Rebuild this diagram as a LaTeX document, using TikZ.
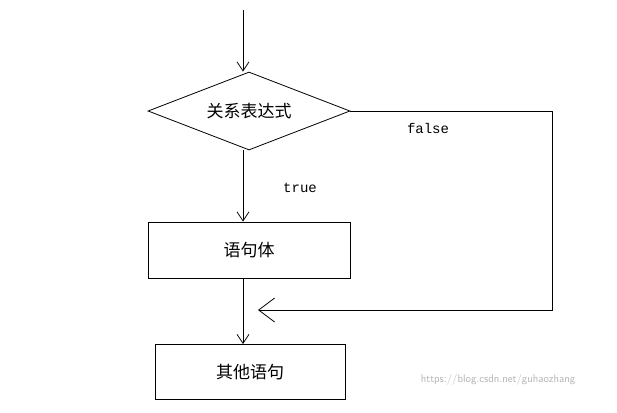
\documentclass[tikz,border=0pt]{standalone}
\usepackage{fontspec}
\newfontfamily\cjk{Noto Sans CJK SC}
\setmonofont{Liberation Mono}
\usetikzlibrary{shapes.geometric,arrows.meta}
\tikzset{
  flowline/.style={line width=0.8pt, -{Straight Barb[length=9pt,width=12pt]}},
  procbox/.style={draw, line width=0.8pt, minimum width=202pt, minimum height=56pt, font=\cjk\fontsize{17}{20}\selectfont},
  cond/.style={draw, diamond, aspect=2.6, line width=0.8pt, minimum width=202pt, minimum height=78pt, inner sep=0pt, font=\cjk\fontsize{17}{20}\selectfont},
  lbl/.style={font=\ttfamily\fontsize{14}{16}\selectfont}
}
\begin{document}
\begin{tikzpicture}[x=1pt,y=-1pt]
                \useasboundingbox (0,0) rectangle (617,412);
                \coordinate (start) at (243,10);
                \node[cond] (test) at (249,111) {关系表达式};
                \node[procbox] (body) at (249,250) {语句体};
                \node[procbox, minimum width=190pt, minimum height=55pt] (next) at (250,372) {其他语句};

                \draw[flowline] (start) -- (start |- test.north);
                \draw[flowline] (test.south -| start) -- (start |- body.north);
                \draw[flowline] (body.south -| start) -- (start |- next.north);

                \coordinate (loopa) at (552,111);
                \coordinate (loopb) at (552,310);
                \coordinate (loopend) at (258,310);
                \draw[line width=0.8pt, -{Straight Barb[length=16pt,width=24pt]}] (test.east) -- (loopa) -- (loopb) -- (loopend);

                \node[lbl] at (300,188) {true};
                \node[lbl] at (428,128) {false};
                \node[text=gray!60, font=\fontsize{11}{13}\selectfont\sffamily] at (498,380) {https://blog.csdn.net/guhaozhang};
\end{tikzpicture}
\end{document}
